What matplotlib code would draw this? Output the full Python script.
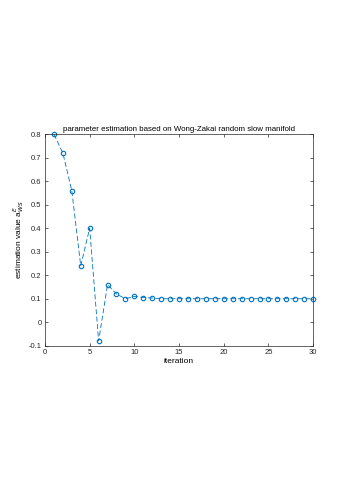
import matplotlib
matplotlib.use("Agg")
import matplotlib.pyplot as plt

plt.rcParams['font.family'] = ['Liberation Sans', 'DejaVu Sans']

iteration = list(range(1, 31))
estimate = [0.80, 0.72, 0.56, 0.24, 0.40, -0.08, 0.16, 0.12, 0.10, 0.11,
            0.105, 0.103, 0.10, 0.10, 0.10, 0.10, 0.10, 0.10, 0.10, 0.10,
            0.10, 0.10, 0.10, 0.10, 0.10, 0.10, 0.10, 0.10, 0.10, 0.10]
xticks = [0, 5, 10, 15, 20, 25, 30]
yticks = [-0.1, 0, 0.1, 0.2, 0.3, 0.4, 0.5, 0.6, 0.7, 0.8]
yticklabels = ['-0.1', '0', '0.1', '0.2', '0.3', '0.4', '0.5', '0.6', '0.7', '0.8']

fig = plt.figure(figsize=(3.46, 4.90), dpi=100)
ax = fig.add_axes([0.130, 0.2945, 0.775, 0.4315])

ax.plot(iteration, estimate, '--o', color='#0072BD', lw=0.6,
        markersize=3.2, markerfacecolor='none', markeredgewidth=0.8,
        dashes=(6, 3), clip_on=False)

ax.set_xlim(0, 30)
ax.set_ylim(-0.1, 0.8)
ax.set_xticks(xticks)
ax.set_yticks(yticks)
ax.set_yticklabels(yticklabels)

for s in ax.spines.values():
    s.set_color('#262626')
    s.set_linewidth(0.5)
ax.tick_params(direction='in', top=True, right=True, length=2.5, width=0.5,
               labelsize=5.5, colors='#262626', pad=2.5)

ax.set_title('parameter estimation based on Wong-Zakai random slow manifold',
             fontsize=5.7, pad=2.5)
ax.set_xlabel('iteration', fontsize=6, labelpad=1)
ax.set_ylabel('estimation value a$^E_{WS}$', fontsize=6, labelpad=2)

fig.savefig('out.png', dpi=100)
